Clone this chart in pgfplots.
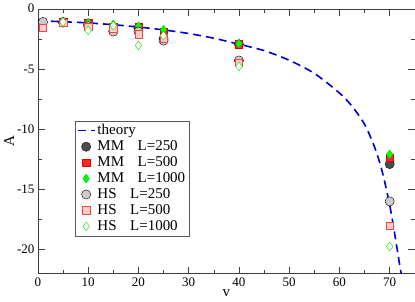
\documentclass[border=0pt]{standalone}
\usepackage{fontspec}
\setmainfont{Liberation Serif}
\usepackage{pgfplots}
\pgfplotsset{compat=1.18}
\begin{document}
\fontsize{13pt}{15pt}\selectfont
\begin{tikzpicture}
\begin{axis}[
  scale only axis,
  width=377pt, height=265pt,
  xmin=0, xmax=75, ymin=-22, ymax=0,
  xtick={0,10,...,70}, ytick={-20,-15,-10,-5,0},
  minor x tick num=1, minor y tick num=1,
  tick align=inside,
  major tick length=7pt, minor tick length=4pt,
  axis line style={black!75},
  every tick/.style={black!75},
  tick label style={font=\fontsize{13pt}{15pt}\selectfont},
  yticklabel style={xshift=1pt},
  /pgf/number format/assume math mode=true,
  xlabel={v}, ylabel={A},
  label style={font=\fontsize{15pt}{16pt}\selectfont},
  xlabel style={yshift=6pt},
  ylabel style={yshift=-6pt},
  legend style={at={(axis cs:7.4,-9.3)}, anchor=north west,
    draw=black!65, font=\fontsize{15pt}{15pt}\selectfont,
    row sep=0pt, inner sep=1.5pt},
  legend cell align=left,
  clip=false,
]
\addplot[blue!85!black, line width=1.6pt, dash pattern=on 8pt off 5pt, smooth, no marks] coordinates {
(0,-1.0) (5,-1.08) (10,-1.18) (15,-1.33) (20,-1.52) (25,-1.76) (30,-2.06) (35,-2.45) (40,-2.95)
(45,-3.48) (50,-4.28) (55,-5.37) (60,-7.0) (62.5,-8.1) (65,-9.6) (67,-11.5) (68.5,-13.5)
(70,-16.3) (71,-18.7) (72,-21.3) (72.3,-22)
};
\addlegendentry{theory}
\addplot[only marks, mark=*, mark size=4.6pt, mark options={draw=black, fill=black!70}] coordinates {
(5,-1.15) (10,-1.3) (15,-1.85) (20,-1.6) (25,-2.5) (40,-2.95) (70,-12.9)
};
\addlegendentry{MM\hspace{0.9em}L=250}
\addplot[only marks, mark=square*, mark size=3.7pt, mark options={draw=red!90!black, fill=red!85}] coordinates {
(5,-1.1) (10,-1.2) (15,-1.5) (20,-1.55) (25,-1.9) (40,-2.95) (70,-12.35)
};
\addlegendentry{MM\hspace{0.9em}L=500}
\addplot[only marks, mark=diamond*, mark size=4.4pt, mark options={draw=green!80!black, fill=green}] coordinates {
(5,-1.05) (10,-1.15) (15,-1.3) (20,-1.45) (25,-1.75) (40,-2.9) (70,-12.1)
};
\addlegendentry{MM\hspace{0.9em}L=1000}
\addplot[only marks, mark=*, mark size=4.6pt, mark options={draw=black, fill=black!20}] coordinates {
(1,-1.1) (5,-1.1) (10,-1.45) (15,-1.9) (20,-1.9) (25,-2.65) (40,-4.3) (70,-16.0)
};
\addlegendentry{HS\hspace{0.9em}L=250}
\addplot[only marks, mark=square*, mark size=3.7pt, mark options={draw=red!75, fill=red!20}] coordinates {
(1,-1.6) (5,-1.15) (10,-1.5) (15,-1.65) (20,-2.1) (25,-2.45) (40,-4.5) (70,-18.0)
};
\addlegendentry{HS\hspace{0.9em}L=500}
\addplot[only marks, mark=diamond*, mark size=4.4pt, mark options={draw=green!90!black, fill=white}] coordinates {
(5,-1.1) (10,-1.8) (15,-1.4) (20,-3.05) (25,-2.25) (40,-4.8) (70,-19.75)
};
\addlegendentry{HS\hspace{0.9em}L=1000}
\end{axis}
\end{tikzpicture}
\end{document}
